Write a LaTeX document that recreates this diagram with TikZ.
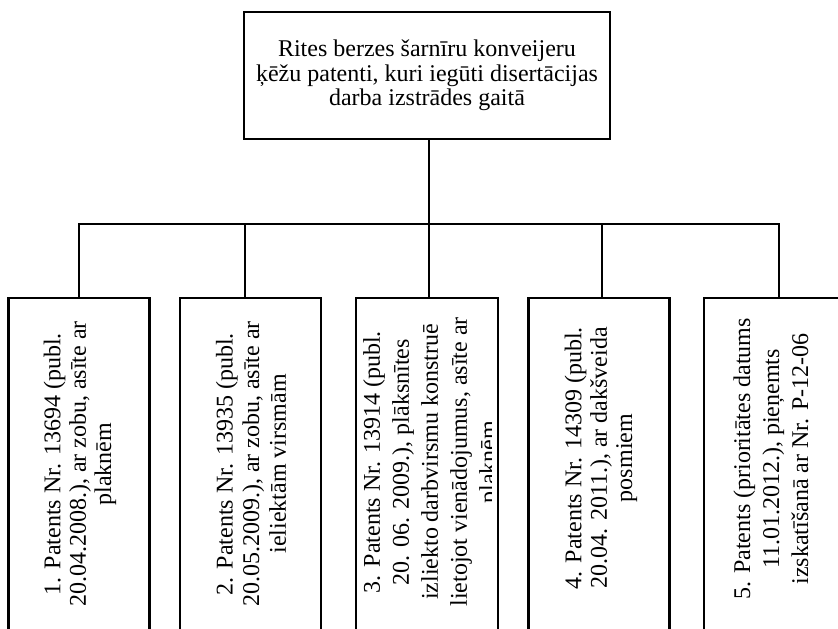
\documentclass[tikz,border=0pt]{standalone}
\usepackage{fontspec}
\setmainfont{Liberation Serif}
\begin{document}
\begin{tikzpicture}[x=0.75pt,y=-0.75pt,line width=1.6pt,
		headbox/.style={draw,inner sep=0pt,minimum width=274.5pt,minimum height=95.25pt,align=center,font=\fontsize{18}{18.5}\selectfont},
		patbox/.style={draw,inner sep=0pt,minimum width=105.75pt,minimum height=257.25pt,anchor=north},
		vtext/.style={rotate=90,align=center,inner sep=0pt,font=\fontsize{18}{19}\selectfont},
		widetext/.style={vtext,font=\fontsize{18}{21.75}\selectfont}]
			\useasboundingbox (0,0) rectangle (838,628);
			\clip (0,0) rectangle (838,628);
			\node[headbox] (top) at (427,75.5) {Rites berzes šarnīru konveijeru\\ķēžu patenti, kuri iegūti disertācijas\\darba izstrādes gaitā};
			\node[patbox] (b1) at (79,297) {};
			\node[patbox] (b2) at (250.5,297) {};
			\node[patbox,minimum width=106.5pt] (b3) at (427,297) {};
			\node[patbox] (b4) at (599,297) {};
			\node[patbox] (b5) at (774.5,297) {};
			\coordinate (d2) at (245,224);
			\coordinate (d5) at (779,224);
			\draw ([xshift=1.5pt]top.south) -- ([xshift=1.5pt]top.south |- d2);
			\draw (b1.north) |- (d5) -- (d5 |- b5.north);
			\draw (d2) -- (d2 |- b2.north);
			\draw ([xshift=1.5pt]b3.north) -- ([xshift=1.5pt]b3.north |- d2);
			\draw ([xshift=2.25pt]b4.north) -- ([xshift=2.25pt]b4.north |- d2);
			\node[vtext] (t1) at (80,464) {1. Patents Nr. 13694 (publ.\\20.04.2008.), ar zobu, asīte ar\\plaknēm};
			\node[vtext,font=\fontsize{18}{20}\selectfont] (t2) at (251,464) {2. Patents Nr. 13935 (publ.\\20.05.2009.), ar zobu, asīte ar\\ieliektām virsmām};
			\begin{scope}
				\clip (363,297) rectangle (491,628);
				\node[widetext] (t3) at (432,462) {3. Patents Nr. 13914 (publ.\\20. 06. 2009.), plāksnītes\\izliekto darbvirsmu konstruē\\lietojot vienādojumus, asīte ar\\plaknēm};
			\end{scope}
			\node[vtext] (t4) at (601,458) {4. Patents Nr. 14309 (publ.\\20.04. 2011.), ar dakšveida\\posmiem};
			\node[widetext] (t5) at (771,459) {5. Patents (prioritātes datums\\11.01.2012.), pieņemts\\izskatīšanā ar Nr. P-12-06};
		\end{tikzpicture}
\end{document}
